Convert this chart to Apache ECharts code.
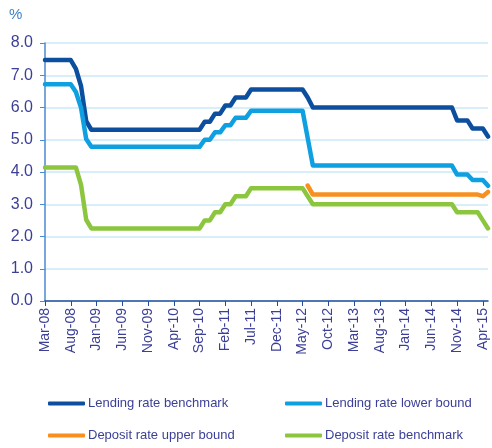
<!DOCTYPE html>
<html>
<head>
<meta charset="utf-8">
<script src="https://cdn.jsdelivr.net/npm/echarts@6/dist/echarts.min.js"></script>
<style>
html,body{margin:0;padding:0;background:#fff;}
#main{width:492px;height:448px;}
</style>
</head>
<body>
<div id="main"></div>
<script>
// months, Mar-08 .. May-15
var months=[
	'Mar-08','Apr-08','May-08','Jun-08','Jul-08','Aug-08','Sep-08','Oct-08','Nov-08','Dec-08',
	'Jan-09','Feb-09','Mar-09','Apr-09','May-09','Jun-09','Jul-09','Aug-09','Sep-09','Oct-09','Nov-09','Dec-09',
	'Jan-10','Feb-10','Mar-10','Apr-10','May-10','Jun-10','Jul-10','Aug-10','Sep-10','Oct-10','Nov-10','Dec-10',
	'Jan-11','Feb-11','Mar-11','Apr-11','May-11','Jun-11','Jul-11','Aug-11','Sep-11','Oct-11','Nov-11','Dec-11',
	'Jan-12','Feb-12','Mar-12','Apr-12','May-12','Jun-12','Jul-12','Aug-12','Sep-12','Oct-12','Nov-12','Dec-12',
	'Jan-13','Feb-13','Mar-13','Apr-13','May-13','Jun-13','Jul-13','Aug-13','Sep-13','Oct-13','Nov-13','Dec-13',
	'Jan-14','Feb-14','Mar-14','Apr-14','May-14','Jun-14','Jul-14','Aug-14','Sep-14','Oct-14','Nov-14','Dec-14',
	'Jan-15','Feb-15','Mar-15','Apr-15','May-15'
];

var lending=[
	7.47,7.47,7.47,7.47,7.47,7.47,7.20,6.66,5.58,5.31,
	5.31,5.31,5.31,5.31,5.31,5.31,5.31,5.31,5.31,5.31,5.31,5.31,
	5.31,5.31,5.31,5.31,5.31,5.31,5.31,5.31,5.31,5.56,5.56,5.81,
	5.81,6.06,6.06,6.31,6.31,6.31,6.56,6.56,6.56,6.56,6.56,6.56,
	6.56,6.56,6.56,6.56,6.56,6.31,6.00,6.00,6.00,6.00,6.00,6.00,
	6.00,6.00,6.00,6.00,6.00,6.00,6.00,6.00,6.00,6.00,6.00,6.00,
	6.00,6.00,6.00,6.00,6.00,6.00,6.00,6.00,6.00,6.00,5.60,5.60,
	5.60,5.35,5.35,5.35,5.10
];

var lendingLower=[
	6.72,6.72,6.72,6.72,6.72,6.72,6.48,5.99,5.02,4.78,
	4.78,4.78,4.78,4.78,4.78,4.78,4.78,4.78,4.78,4.78,4.78,4.78,
	4.78,4.78,4.78,4.78,4.78,4.78,4.78,4.78,4.78,5.00,5.00,5.23,
	5.23,5.45,5.45,5.68,5.68,5.68,5.90,5.90,5.90,5.90,5.90,5.90,
	5.90,5.90,5.90,5.90,5.90,5.05,4.20,4.20,4.20,4.20,4.20,4.20,
	4.20,4.20,4.20,4.20,4.20,4.20,4.20,4.20,4.20,4.20,4.20,4.20,
	4.20,4.20,4.20,4.20,4.20,4.20,4.20,4.20,4.20,4.20,3.92,3.92,
	3.92,3.75,3.75,3.75,3.57
];

var depositUpper=[
	null,null,null,null,null,null,null,null,null,null,
	null,null,null,null,null,null,null,null,null,null,null,null,
	null,null,null,null,null,null,null,null,null,null,null,null,
	null,null,null,null,null,null,null,null,null,null,null,null,
	null,null,null,null,null,3.58,3.30,3.30,3.30,3.30,3.30,3.30,
	3.30,3.30,3.30,3.30,3.30,3.30,3.30,3.30,3.30,3.30,3.30,3.30,
	3.30,3.30,3.30,3.30,3.30,3.30,3.30,3.30,3.30,3.30,3.30,3.30,
	3.30,3.30,3.30,3.25,3.38
];

var deposit=[
	4.14,4.14,4.14,4.14,4.14,4.14,4.14,3.60,2.52,2.25,
	2.25,2.25,2.25,2.25,2.25,2.25,2.25,2.25,2.25,2.25,2.25,2.25,
	2.25,2.25,2.25,2.25,2.25,2.25,2.25,2.25,2.25,2.50,2.50,2.75,
	2.75,3.00,3.00,3.25,3.25,3.25,3.50,3.50,3.50,3.50,3.50,3.50,
	3.50,3.50,3.50,3.50,3.50,3.25,3.00,3.00,3.00,3.00,3.00,3.00,
	3.00,3.00,3.00,3.00,3.00,3.00,3.00,3.00,3.00,3.00,3.00,3.00,
	3.00,3.00,3.00,3.00,3.00,3.00,3.00,3.00,3.00,3.00,2.75,2.75,
	2.75,2.75,2.75,2.50,2.25
];

var names=['Lending rate benchmark','Lending rate lower bound','Deposit rate upper bound','Deposit rate benchmark'];
var colors=['#0d4f9f','#0ea0e0','#f7901e','#8cc63f'];
var values=[lending,lendingLower,depositUpper,deposit];

var textColor='#3b3f96';

function legendAt(i,left,top){
	return {
		data:[names[i]],
		left:left,
		top:top,
		icon:'roundRect',
		itemWidth:37,
		itemHeight:4,
		itemGap:0,
		padding:0,
		textStyle:{color:textColor,fontSize:13,fontFamily:'Liberation Sans, Arial',padding:[0,0,0,-2]}
	};
}

var myChart=echarts.init(document.getElementById('main'));
myChart.setOption({
	animation:false,
	color:colors,
	title:{
		text:'%',
		left:4,
		top:2,
		textStyle:{color:'#3d7fc9',fontSize:15,fontWeight:'normal',fontFamily:'Liberation Sans, Arial'}
	},
	legend:[
		legendAt(0,48,397),
		legendAt(1,285,397),
		legendAt(2,48,429),
		legendAt(3,285,429)
	],
	grid:{left:45,right:4,top:43,bottom:147},
	xAxis:{
		type:'category',
		data:months,
		boundaryGap:false,
		axisLine:{lineStyle:{color:'#1f4f9c',width:1.5}},
		axisTick:{interval:4,length:5,lineStyle:{color:'#1f4f9c'}},
		axisLabel:{
			interval:4,
			rotate:90,
			margin:7,
			color:textColor,
			fontSize:14,
			fontFamily:'Liberation Sans, Arial'
		},
		splitLine:{show:false}
	},
	yAxis:{
		type:'value',
		min:0,
		max:8,
		interval:1,
		axisLine:{show:true,lineStyle:{color:'#4a8ad0',width:1.5}},
		axisTick:{show:true,length:5,lineStyle:{color:'#4a8ad0'}},
		axisLabel:{
			color:textColor,
			fontSize:16,
			margin:12,
			fontFamily:'Liberation Sans, Arial',
			formatter:function(v){return v.toFixed(1);}
		},
		splitLine:{lineStyle:{color:'#cbe8f6',width:1.5}}
	},
	series:values.map(function(d,i){
		return {
			name:names[i],
			type:'line',
			data:d,
			symbol:'none',
			lineStyle:{width:4.5,cap:'round',join:'round'}
		};
	})
});
</script>
</body>
</html>
